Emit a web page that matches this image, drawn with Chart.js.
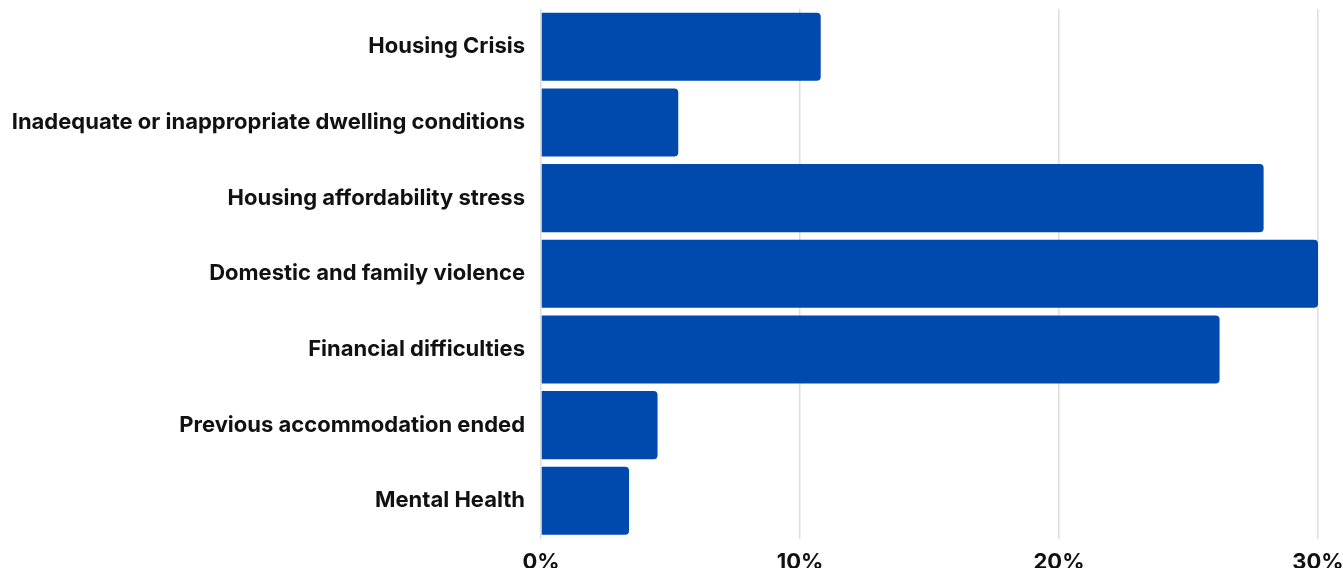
<!DOCTYPE html>
<html>
<head>
<meta charset="utf-8">
<script src="https://cdn.jsdelivr.net/npm/chart.js@4"></script>
<style>
  html, body { margin: 0; padding: 0; background: #fff; overflow: hidden; }
  #wrap { position: relative; width: 1343px; height: 587px; }
</style>
</head>
<body>
<div id="wrap"><canvas id="chart"></canvas></div>
<script>
const reasons = [
  'Housing Crisis',
  'Inadequate or inappropriate dwelling conditions',
  'Housing affordability stress',
  'Domestic and family violence',
  'Financial difficulties',
  'Previous accommodation ended',
  'Mental Health'
];
const shares = [10.8, 5.3, 27.9, 30.0, 26.2, 4.5, 3.4];
const percentTicks = [0, 10, 20, 30];

const labelFont = { family: 'Inter', size: 22, weight: 'bold' };

new Chart(document.getElementById('chart'), {
  type: 'bar',
  data: {
    labels: reasons,
    datasets: [{
      data: shares,
      backgroundColor: '#004aad',
      borderRadius: 4,
      borderSkipped: 'start',
      barPercentage: 0.9,
      categoryPercentage: 1
    }]
  },
  options: {
    indexAxis: 'y',
    responsive: true,
    maintainAspectRatio: false,
    animation: false,
    layout: { padding: { top: 9, right: 25, left: 0, bottom: 0 } },
    plugins: { legend: { display: false }, tooltip: { enabled: false } },
    scales: {
      x: {
        min: 0,
        max: 30,
        afterBuildTicks: (scale) => { scale.ticks = percentTicks.map(v => ({ value: v })); },
        afterFit: (scale) => { scale.paddingLeft = 0; scale.paddingRight = 0; },
        ticks: {
          color: '#111',
          font: labelFont,
          padding: 11,
          callback: (v) => v + '%'
        },
        grid: { color: '#dddddd', lineWidth: 1.5, drawTicks: false },
        border: { display: false }
      },
      y: {
        afterFit: (scale) => {
          scale.width = 541;
          scale.paddingTop = 0;
          scale.paddingBottom = 0;
        },
        ticks: { color: '#111', font: labelFont, padding: 16 },
        grid: { display: false, drawTicks: false },
        border: { display: false }
      }
    }
  }
});
</script>
</body>
</html>
